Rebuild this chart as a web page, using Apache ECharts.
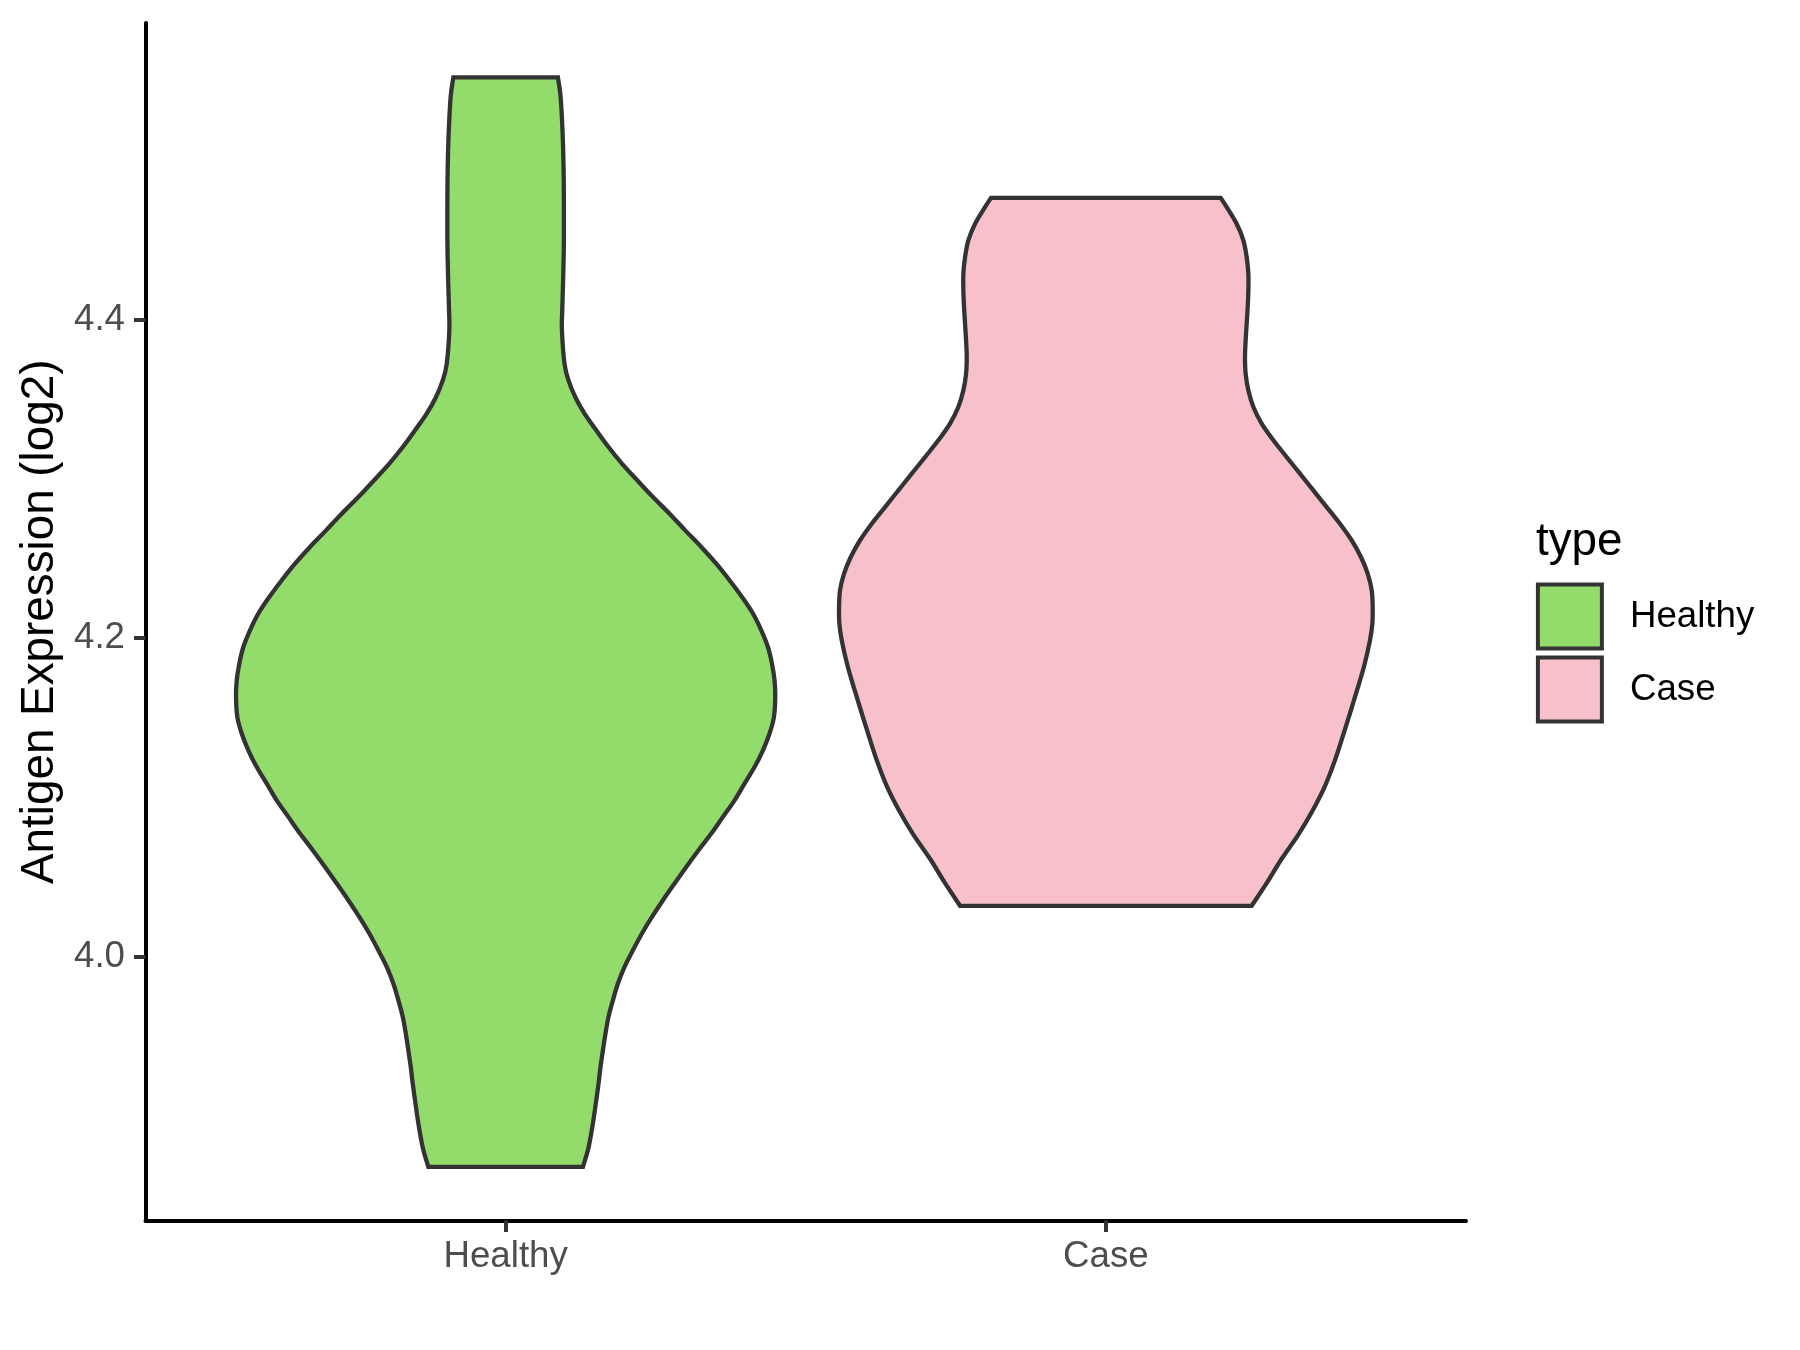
<!DOCTYPE html>
<html>
<head>
<meta charset="utf-8">
<script src="https://cdn.jsdelivr.net/npm/echarts@6/dist/echarts.min.js"></script>
<style>
html,body{margin:0;padding:0;background:#ffffff;}
#chart{width:1800px;height:1350px;}
</style>
</head>
<body>
<div id="chart"></div>
<script>
// ---- data ----
const categories = ['Healthy', 'Case'];
const yTicks = [4.0, 4.2, 4.4];

// violin outline: expression value (log2) and half-width (in category units)
const healthyValues = [4.5519, 4.5401, 4.5179, 4.4954, 4.4728, 4.4504, 4.4282, 4.4056, 4.3931, 4.3722,
  4.3617, 4.3513, 4.3408, 4.3304, 4.3199, 4.3095, 4.2990, 4.2885, 4.2781, 4.2676,
  4.2572, 4.2467, 4.2363, 4.2258, 4.2154, 4.2049, 4.1944, 4.1840, 4.1735, 4.1630,
  4.1505, 4.1401, 4.1296, 4.1191, 4.1087, 4.0982, 4.0878, 4.0773, 4.0669, 4.0564,
  4.0460, 4.0355, 4.0250, 4.0146, 4.0041, 3.9937, 3.9832, 3.9728, 3.9623, 3.9519,
  3.9414, 3.9309, 3.9205, 3.9100, 3.8996, 3.8891, 3.8787, 3.8682];
const healthyHalfWidths = [0.0871, 0.0915, 0.0948, 0.0965, 0.0971, 0.0971, 0.0960, 0.0943, 0.0938, 0.0981,
  0.1048, 0.1160, 0.1315, 0.1510, 0.1714, 0.1938, 0.2193, 0.2454, 0.2731, 0.2992,
  0.3259, 0.3509, 0.3730, 0.3937, 0.4120, 0.4259, 0.4370, 0.4437, 0.4480, 0.4492,
  0.4470, 0.4397, 0.4287, 0.4147, 0.3980, 0.3814, 0.3620, 0.3426, 0.3214, 0.3009,
  0.2814, 0.2621, 0.2438, 0.2271, 0.2121, 0.1981, 0.1871, 0.1788, 0.1714, 0.1664,
  0.1621, 0.1581, 0.1548, 0.1510, 0.1471, 0.1426, 0.1371, 0.1288];

const caseValues = [4.4763, 4.4705, 4.4600, 4.4496, 4.4391, 4.4287, 4.4182, 4.4077, 4.3973, 4.3868,
  4.3763, 4.3659, 4.3555, 4.3450, 4.3346, 4.3241, 4.3136, 4.3032, 4.2927, 4.2822,
  4.2718, 4.2614, 4.2509, 4.2405, 4.2300, 4.2195, 4.2091, 4.1986, 4.1831, 4.1679,
  4.1527, 4.1375, 4.1223, 4.1071, 4.0918, 4.0767, 4.0615, 4.0462, 4.0320];
const caseHalfWidths = [0.1913, 0.2013, 0.2179, 0.2291, 0.2346, 0.2374, 0.2374, 0.2363, 0.2346, 0.2329,
  0.2318, 0.2329, 0.2374, 0.2458, 0.2596, 0.2791, 0.3012, 0.3234, 0.3457, 0.3679,
  0.3900, 0.4095, 0.4250, 0.4362, 0.4429, 0.4445, 0.4440, 0.4400, 0.4307, 0.4190,
  0.4067, 0.3940, 0.3807, 0.3650, 0.3445, 0.3207, 0.2929, 0.2679, 0.2429];

// ---- styling ----
const FONT = '"Liberation Sans", Arial, Helvetica, sans-serif';
const fills = ['#93DB6B', '#F7C0CB'];
const outline = '#333333';

function smoothSegments(pts) {
  let d = '';
  const n = pts.length;
  for (let i = 0; i < n - 1; i++) {
    const p0 = pts[Math.max(i - 1, 0)], p1 = pts[i], p2 = pts[i + 1], p3 = pts[Math.min(i + 2, n - 1)];
    const c1 = [p1[0] + (p2[0] - p0[0]) / 6, p1[1] + (p2[1] - p0[1]) / 6];
    const c2 = [p2[0] - (p3[0] - p1[0]) / 6, p2[1] - (p3[1] - p1[1]) / 6];
    d += ' C' + c1[0] + ' ' + c1[1] + ' ' + c2[0] + ' ' + c2[1] + ' ' + p2[0] + ' ' + p2[1];
  }
  return d;
}

function makeRenderItem(values, halfWidths, fill) {
  return function (params, api) {
    const center = api.value(0);
    const left = values.map((v, i) => api.coord([center - halfWidths[i], v]));
    const right = values.map((v, i) => api.coord([center + halfWidths[i], v])).reverse();
    let d = 'M' + left[0][0] + ' ' + left[0][1];
    d += smoothSegments(left);
    d += ' L' + right[0][0] + ' ' + right[0][1];
    d += smoothSegments(right);
    d += ' Z';
    return {
      type: 'path',
      shape: { pathData: d },
      style: { fill: fill, stroke: outline, lineWidth: 4.3, lineJoin: 'miter' }
    };
  };
}

const chart = echarts.init(document.getElementById('chart'), null, { renderer: 'canvas' });
chart.setOption({
  animation: false,
  backgroundColor: '#ffffff',
  title: {
    text: 'type', left: 1536, top: 519.6, padding: 0,
    textStyle: { fontFamily: FONT, fontSize: 45.8, fontWeight: 'normal', color: '#000000' }
  },
  legend: {
    orient: 'vertical', left: 1535.9, top: 582.5,
    itemWidth: 64, itemHeight: 64, itemGap: 5, padding: 0,
    icon: 'rect', selectedMode: false,
    data: [
      { name: categories[0], itemStyle: { color: fills[0], borderColor: outline, borderWidth: 4 } },
      { name: categories[1], itemStyle: { color: fills[1], borderColor: outline, borderWidth: 4 } }
    ],
    textStyle: { fontFamily: FONT, fontSize: 36.7, color: '#000000', padding: [0, 0, 0, 23] }
  },
  grid: { left: 145.5, top: 23, width: 1320.5, height: 1197.5, containLabel: false },
  xAxis: {
    type: 'value', min: 0.4, max: 2.6,
    splitLine: { show: false },
    axisLine: { show: true, onZero: false, lineStyle: { color: '#000000', width: 4 } },
    axisTick: { show: true, customValues: [1, 2], length: 11.5, lineStyle: { color: '#333333', width: 4 } },
    axisLabel: {
      show: true, customValues: [1, 2], margin: 18,
      formatter: v => categories[Math.round(v) - 1],
      fontFamily: FONT, fontSize: 36.7, color: '#4D4D4D'
    }
  },
  yAxis: {
    type: 'value', min: 3.8345, max: 4.586,
    name: 'Antigen Expression (log2)', nameLocation: 'middle', nameGap: 80,
    nameTextStyle: { fontFamily: FONT, fontSize: 45.8, color: '#000000' },
    splitLine: { show: false },
    axisLine: { show: true, onZero: false, lineStyle: { color: '#000000', width: 4 } },
    axisTick: { show: true, customValues: yTicks, length: 11.5, lineStyle: { color: '#333333', width: 4 } },
    axisLabel: {
      show: true, customValues: yTicks, margin: 20.5,
      formatter: v => v.toFixed(1),
      fontFamily: FONT, fontSize: 36.7, color: '#4D4D4D'
    }
  },
  series: [
    {
      name: categories[0], type: 'custom', coordinateSystem: 'cartesian2d',
      itemStyle: { color: fills[0], borderColor: outline, borderWidth: 4 },
      renderItem: makeRenderItem(healthyValues, healthyHalfWidths, fills[0]),
      data: [[1, healthyValues[0]]]
    },
    {
      name: categories[1], type: 'custom', coordinateSystem: 'cartesian2d',
      itemStyle: { color: fills[1], borderColor: outline, borderWidth: 4 },
      renderItem: makeRenderItem(caseValues, caseHalfWidths, fills[1]),
      data: [[2, caseValues[0]]]
    }
  ]
});
</script>
</body>
</html>
